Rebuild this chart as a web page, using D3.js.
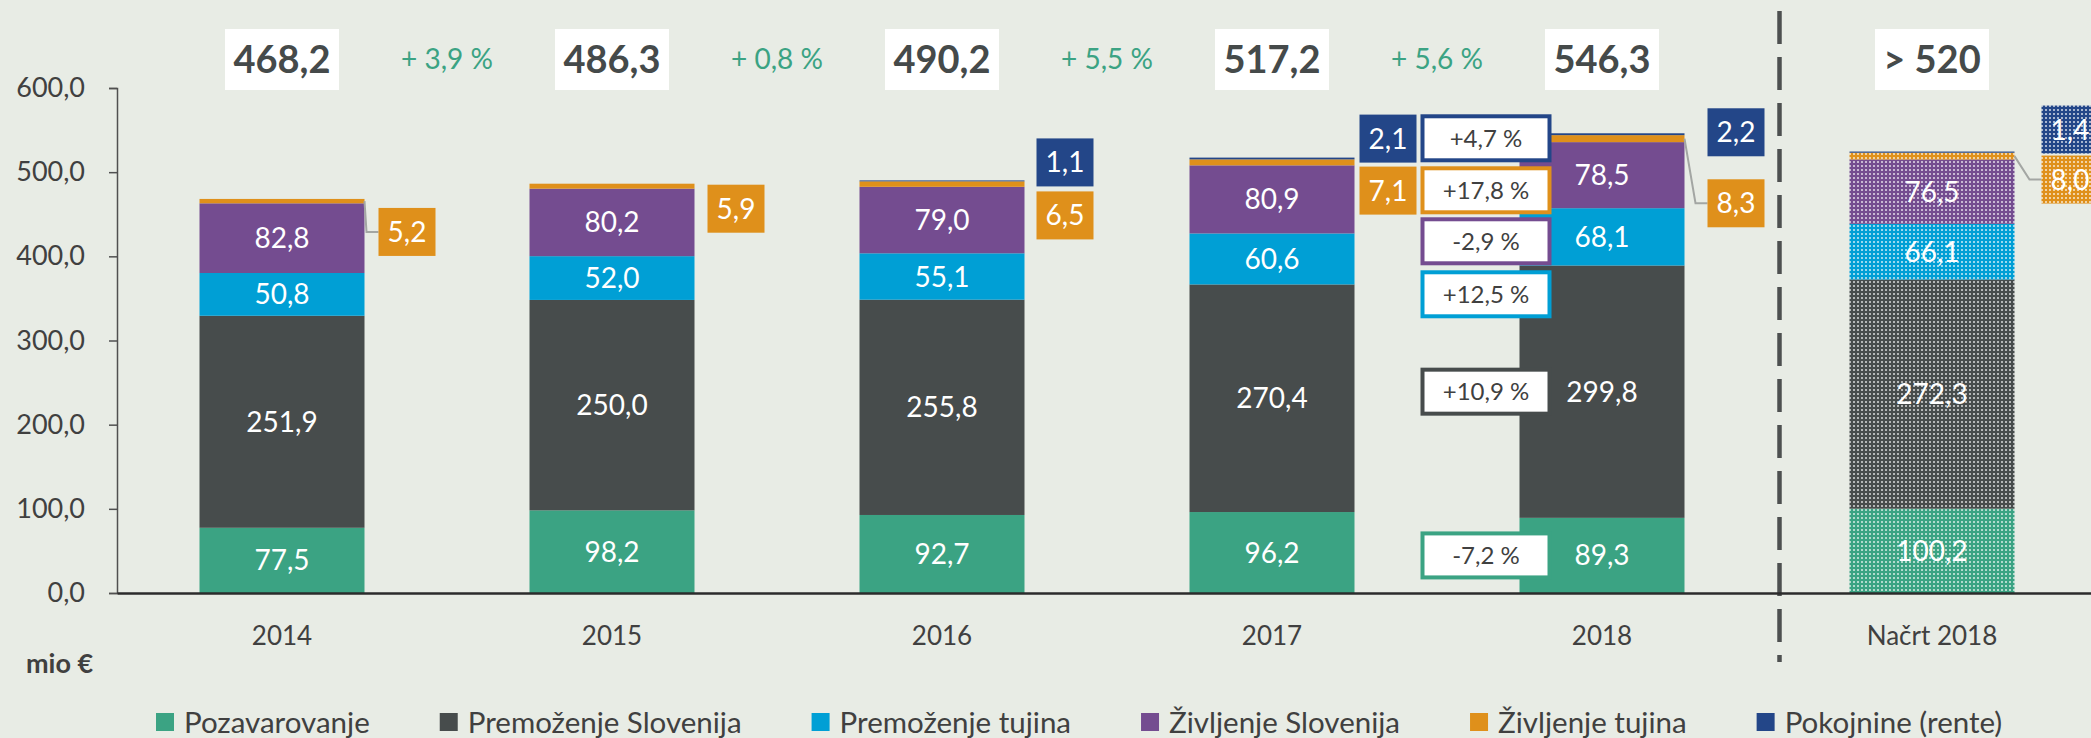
<!DOCTYPE html>
<html>
<head>
<meta charset="utf-8">
<script src="https://cdn.jsdelivr.net/npm/d3@7"></script>
<style>
body { margin: 0; background: #e8ece5; }
svg { display: block; font-family: Lato, "Open Sans", sans-serif; }
</style>
</head>
<body>
<svg id="chart" width="2091" height="738"></svg>
<script>
// categories and series
var years = ["2014", "2015", "2016", "2017", "2018", "Načrt 2018"];
var seriesNames = ["Pozavarovanje", "Premoženje Slovenija", "Premoženje tujina", "Življenje Slovenija", "Življenje tujina", "Pokojnine (rente)"];
var seriesColors = ["#3ba383", "#474c4c", "#009fd5", "#744c90", "#df901b", "#234688"];

var pozavarovanje = [77.5, 98.2, 92.7, 96.2, 89.3, 100.2];
var premozenjeSlovenija = [251.9, 250.0, 255.8, 270.4, 299.8, 272.3];
var premozenjeTujina = [50.8, 52.0, 55.1, 60.6, 68.1, 66.1];
var zivljenjeSlovenija = [82.8, 80.2, 79.0, 80.9, 78.5, 76.5];
var zivljenjeTujina = [5.2, 5.9, 6.5, 7.1, 8.3, 8.0];
var pokojnine = [0, 0, 1.1, 2.1, 2.2, 1.4];

var totalLabels = ["468,2", "486,3", "490,2", "517,2", "546,3", "> 520"];
var growthLabels = ["+ 3,9 %", "+ 0,8 %", "+ 5,5 %", "+ 5,6 %"];
var change2018 = ["-7,2 %", "+10,9 %", "+12,5 %", "-2,9 %", "+17,8 %", "+4,7 %"];
var yTicks = [0, 100, 200, 300, 400, 500, 600];

// callout layout (px relative to bar top / bar edge)
var calloutGap = [14, 13, 12, 5, 23, 27];
var orangeOff = [9, 1, 11, 9, 46, 4];
var navyOff = [0, 0, -42, -43, -25, -46];
var calloutLeader = [true, false, false, false, true, true];

var allSeries = [pozavarovanje, premozenjeSlovenija, premozenjeTujina, zivljenjeSlovenija, zivljenjeTujina, pokojnine];
var keys = d3.range(allSeries.length);
var table = years.map(function(yr, i) {
    var row = {year: yr, idx: i};
    keys.forEach(function(k) { row[k] = allSeries[k][i]; });
    return row;
});
var stacked = d3.stack().keys(keys)(table);

var svg = d3.select("#chart");
var textCol = "#404040";
var fmt = function(v) { return v.toFixed(1).replace(".", ","); };

var x = d3.scaleBand().domain(years).range([117, 2097]).paddingInner(0.5).paddingOuter(0.25);
var y = d3.scaleLinear().domain([0, 600]).range([593, 88]);
var bw = x.bandwidth();

// patterns for the plan bar
var defs = svg.append("defs");
seriesColors.forEach(function(c, k) {
    var p = defs.append("pattern").attr("id", "pat" + k)
        .attr("patternUnits", "userSpaceOnUse").attr("width", 4).attr("height", 4);
    p.append("rect").attr("width", 4).attr("height", 4).attr("fill", c);
    p.append("rect").attr("x", 1).attr("y", 1).attr("width", 2).attr("height", 2)
        .attr("fill", "#fff").attr("opacity", 0.6);
});
function fillFor(k, i) { return i === 5 ? "url(#pat" + k + ")" : seriesColors[k]; }

// dashed separator between actuals and plan
var sepX = x("Načrt 2018") - 70;
svg.append("line")
    .attr("x1", sepX).attr("x2", sepX)
    .attr("y1", 11).attr("y2", 662)
    .attr("stroke", "#4d5050").attr("stroke-width", 4.5)
    .attr("stroke-dasharray", "33,13");

// bars
var g = svg.append("g");
stacked.forEach(function(layer) {
    var k = layer.key;
    g.selectAll(".s" + k).data(layer).enter().append("rect")
        .attr("x", function(d) { return x(d.data.year); })
        .attr("y", function(d) { return y(d[1]); })
        .attr("width", bw)
        .attr("height", function(d) { return y(d[0]) - y(d[1]); })
        .attr("fill", function(d) { return fillFor(k, d.data.idx); });
});

// inner labels
stacked.slice(0, 4).forEach(function(layer) {
    g.selectAll(".l" + layer.key).data(layer).enter().append("text")
        .attr("x", function(d) { return x(d.data.year) + bw / 2; })
        .attr("y", function(d) { return y((d[0] + d[1]) / 2); })
        .attr("dy", "0.36em")
        .attr("text-anchor", "middle")
        .attr("font-size", 28)
        .attr("fill", "#fff")
        .text(function(d) { return fmt(d[1] - d[0]); });
});

// side callouts (Življenje tujina, Pokojnine)
years.forEach(function(yr, i) {
    var top = y(stacked[5][i][1]);
    var xr = x(yr) + bw;
    var bx = xr + calloutGap[i];
    var oTop = top + orangeOff[i];
    var segMid = y((stacked[4][i][0] + stacked[4][i][1]) / 2);
    if (calloutLeader[i]) {
        svg.append("path")
            .attr("d", "M" + xr + "," + segMid + "L" + (bx - 12) + "," + (oTop + 24) + "L" + bx + "," + (oTop + 24))
            .attr("fill", "none").attr("stroke", "#a3a6a3").attr("stroke-width", 2);
    }
    var boxes = [{k: 4, top: oTop}];
    if (pokojnine[i] > 0) boxes.push({k: 5, top: top + navyOff[i]});
    boxes.forEach(function(b) {
        svg.append("rect").attr("x", bx).attr("y", b.top).attr("width", 57).attr("height", 48)
            .attr("fill", fillFor(b.k, i));
        svg.append("text").attr("x", bx + 28.5).attr("y", b.top + 24).attr("dy", "0.36em")
            .attr("text-anchor", "middle").attr("font-size", 28).attr("fill", "#fff")
            .text(fmt(allSeries[b.k][i]));
    });
});

// 2018 change boxes
(function() {
    var i = 4;
    var bx = x("2018") + 32 - 131;
    var stackTop = y(stacked[5][i][1]) - 19;
    var tops = {5: stackTop, 4: stackTop + 52, 3: stackTop + 103, 2: stackTop + 156};
    [0, 1].forEach(function(k) {
        tops[k] = y((stacked[k][i][0] + stacked[k][i][1]) / 2) - 24;
    });
    keys.forEach(function(k) {
        svg.append("rect").attr("x", bx + 2).attr("y", tops[k] + 2).attr("width", 127).attr("height", 44)
            .attr("fill", "#fff").attr("stroke", seriesColors[k]).attr("stroke-width", 4);
        svg.append("text").attr("x", bx + 65.5).attr("y", tops[k] + 24).attr("dy", "0.36em")
            .attr("text-anchor", "middle").attr("font-size", 24).attr("fill", textCol)
            .text(change2018[k]);
    });
})();

// totals and growth
years.forEach(function(yr, i) {
    var cx = x(yr) + bw / 2;
    svg.append("rect").attr("x", cx - 57).attr("y", 29).attr("width", 114).attr("height", 61).attr("fill", "#fff");
    svg.append("text").attr("x", cx).attr("y", 59.5).attr("dy", "0.36em")
        .attr("text-anchor", "middle").attr("font-size", 38).attr("font-weight", "bold")
        .attr("fill", "#454a4a").text(totalLabels[i]);
});
growthLabels.forEach(function(t, i) {
    var cx = (x(years[i]) + x(years[i + 1])) / 2 + bw / 2;
    svg.append("text").attr("x", cx).attr("y", 59).attr("dy", "0.36em")
        .attr("text-anchor", "middle").attr("font-size", 28).attr("fill", "#3ba383").text(t);
});

// axes
var yAxis = svg.append("g").attr("transform", "translate(117,0)")
    .call(d3.axisLeft(y).tickValues(yTicks).tickSize(8).tickPadding(24).tickFormat(fmt));
yAxis.select(".domain").attr("stroke", "#505050").attr("stroke-width", 1.5);
yAxis.selectAll(".tick line").attr("stroke", "#505050").attr("stroke-width", 1.5);
yAxis.selectAll("text").attr("font-size", 27).attr("fill", textCol).attr("font-family", "Lato");

var xAxis = svg.append("g").attr("transform", "translate(0,593)")
    .call(d3.axisBottom(x).tickSize(0).tickSizeOuter(0).tickPadding(34));
xAxis.select(".domain").attr("stroke", "#2b2b2b").attr("stroke-width", 2.5);
xAxis.selectAll("text").attr("font-size", 26).attr("fill", textCol).attr("font-family", "Lato");

svg.append("text").attr("x", 26).attr("y", 663).attr("dy", "0.36em")
    .attr("font-size", 27).attr("font-weight", "bold").attr("fill", textCol).text("mio €");

// legend
var lx = 156;
seriesNames.forEach(function(name, k) {
    svg.append("rect").attr("x", lx).attr("y", 713).attr("width", 18).attr("height", 18).attr("fill", seriesColors[k]);
    var t = svg.append("text").attr("x", lx + 28).attr("y", 722).attr("dy", "0.36em")
        .attr("font-size", 29.5).attr("fill", textCol).text(name);
    lx += 28 + t.node().getComputedTextLength() + 70;
});
</script>
</body>
</html>
